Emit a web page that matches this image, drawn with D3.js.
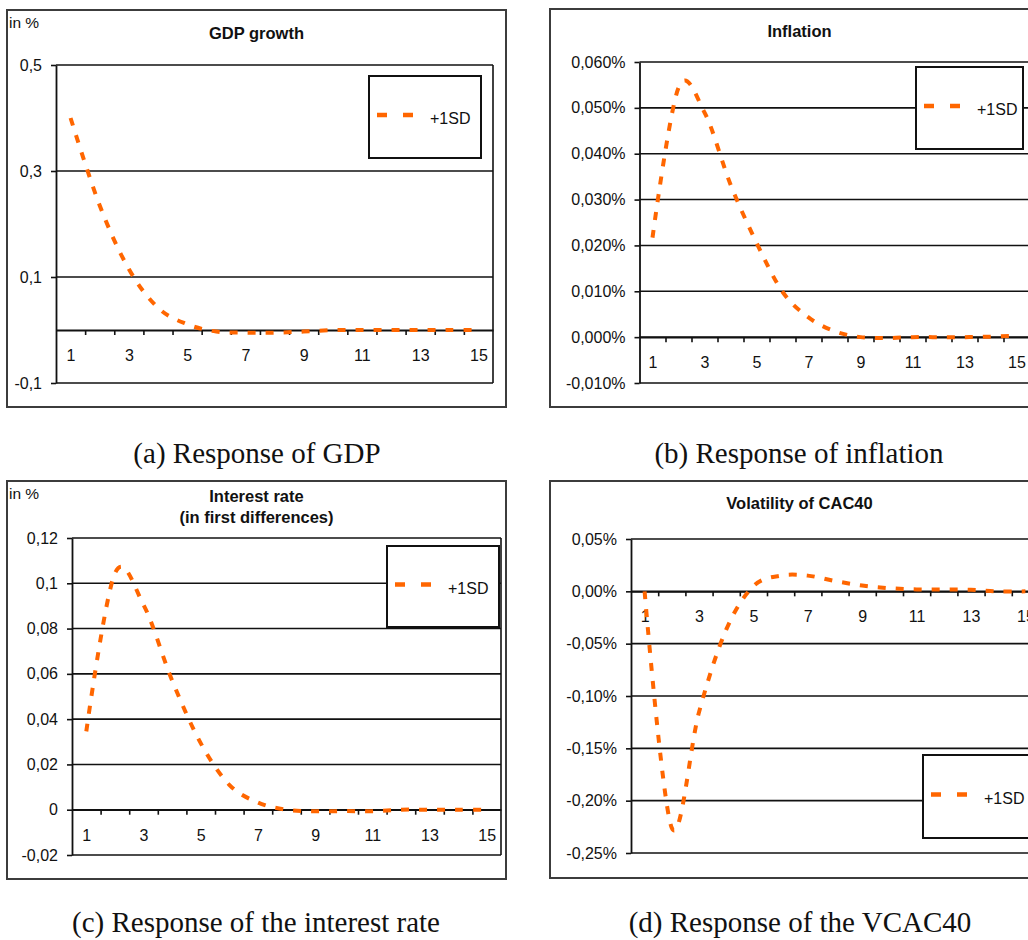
<!DOCTYPE html>
<html>
<head>
<meta charset="utf-8">
<script src="https://cdn.jsdelivr.net/npm/d3@7"></script>
<style>
  html, body { margin: 0; padding: 0; background: #fff; }
  svg { display: block; }
  .lab { font-family: 'Liberation Sans', Arial, sans-serif; font-size: 16px; fill: #111; }
  .ttl { font-family: 'Liberation Sans', Arial, sans-serif; font-size: 16.5px; font-weight: bold; fill: #111; }
  .cap { font-family: 'Liberation Serif', 'Times New Roman', serif; font-size: 29px; fill: #111; }
</style>
</head>
<body>
<svg id="chart" width="1028" height="940"></svg>
<script>
// ---------------- DATA ----------------
const periods = [1, 2, 3, 4, 5, 6, 7, 8, 9, 10, 11, 12, 13, 14, 15];
const xLabelPeriods = [1, 3, 5, 7, 9, 11, 13, 15];
const seriesName = "+1SD";

const gdpGrowth = [0.40, 0.235, 0.115, 0.042, 0.011, -0.003, -0.005, -0.005, -0.003, 0, 0, 0, 0, 0, 0];
const inflation = [0.0217, 0.0544, 0.0490, 0.0333, 0.0206, 0.0099, 0.0043, 0.0013, 0.0000, -0.0002, 0.0000, 0.0000, 0.0000, 0.0001, 0.0003];
const interestRate = [0.0346, 0.1044, 0.0905, 0.0571, 0.0294, 0.0110, 0.0032, 0.0000, -0.0007, -0.0006, -0.0007, 0.0000, 0.0000, 0.0000, 0.0000];
const vcac40 = [0.0, -0.226, -0.1155, -0.0366, 0.0048, 0.015, 0.015, 0.0098, 0.0056, 0.003, 0.0018, 0.0017, 0.0015, 0.0, 0.0];

const gdpTicks = [-0.1, 0.1, 0.3, 0.5];
const gdpTickLabels = ["-0,1", "0,1", "0,3", "0,5"];
const inflationTicks = [-0.01, 0, 0.01, 0.02, 0.03, 0.04, 0.05, 0.06];
const inflationTickLabels = ["-0,010%", "0,000%", "0,010%", "0,020%", "0,030%", "0,040%", "0,050%", "0,060%"];
const interestTicks = [-0.02, 0, 0.02, 0.04, 0.06, 0.08, 0.1, 0.12];
const interestTickLabels = ["-0,02", "0", "0,02", "0,04", "0,06", "0,08", "0,1", "0,12"];
const vcacTicks = [-0.25, -0.2, -0.15, -0.1, -0.05, 0, 0.05];
const vcacTickLabels = ["-0,25%", "-0,20%", "-0,15%", "-0,10%", "-0,05%", "0,00%", "0,05%"];

const titles = [["GDP growth"], ["Inflation"], ["Interest rate", "(in first differences)"], ["Volatility of CAC40"]];
const captions = ["(a) Response of GDP", "(b) Response of inflation", "(c) Response of the interest rate", "(d) Response of the VCAC40"];
const unitLabel = "in %";

// ---------------- LAYOUT ----------------
const svg = d3.select("#chart");
svg.append("rect").attr("width", 1028).attr("height", 940).attr("fill", "#fff");

const panels = [
  { values: gdpGrowth, ticks: gdpTicks, labels: gdpTickLabels, title: titles[0], caption: captions[0], unit: true,
    outer: [7, 10, 499, 397], plot: [56, 493, 65, 383], titleY: [39], capX: 257, capY: 463,
    legend: [369, 76, 112, 82] },
  { values: inflation, ticks: inflationTicks, labels: inflationTickLabels, title: titles[1], caption: captions[1], unit: false,
    outer: [550, 9, 499, 398], plot: [639.5, 1029.5, 62, 383], titleY: [37], capX: 799, capY: 463,
    legend: [916, 67, 107, 82] },
  { values: interestRate, ticks: interestTicks, labels: interestTickLabels, title: titles[2], caption: captions[2], unit: true,
    outer: [7, 481, 499, 398], plot: [72, 501, 538, 855], titleY: [502, 523], capX: 256, capY: 932,
    legend: [387, 546, 112, 81] },
  { values: vcac40, ticks: vcacTicks, labels: vcacTickLabels, title: titles[3], caption: captions[3], unit: false,
    outer: [550, 481, 499, 397], plot: [631, 1039, 539, 853], titleY: [509], capX: 800, capY: 932,
    legend: [923, 755, 110, 83] }
];

panels.forEach(p => {
  const g = svg.append("g");
  const [ox, oy, ow, oh] = p.outer;
  const [pl, pr, pt, pb] = p.plot;
  const cx = ox + ow / 2;

  // outer frame
  g.append("rect").attr("x", ox).attr("y", oy).attr("width", ow).attr("height", oh)
    .attr("fill", "#fff").attr("stroke", "#3c3c3c").attr("stroke-width", 2);

  const x = d3.scaleLinear().domain([0.5, 15.5]).range([pl, pr]);
  const y = d3.scaleLinear().domain(d3.extent(p.ticks)).range([pb, pt]);

  // gridlines at ticks
  g.append("g").selectAll("line").data(p.ticks).join("line")
    .attr("x1", pl).attr("x2", pr)
    .attr("y1", d => y(d)).attr("y2", d => y(d))
    .attr("stroke", "#111").attr("stroke-width", 1.6);

  // plot border (right)
  g.append("line").attr("x1", pr).attr("x2", pr).attr("y1", pt).attr("y2", pb)
    .attr("stroke", "#111").attr("stroke-width", 1.6);

  // y axis
  const ya = g.append("g").attr("transform", `translate(${pl},0)`)
    .call(d3.axisLeft(y).tickValues(p.ticks).tickFormat((d, i) => p.labels[i]).tickSize(5).tickSizeOuter(0).tickPadding(9));
  ya.select(".domain").attr("stroke", "#111").attr("stroke-width", 1.8);
  ya.selectAll(".tick line").attr("stroke", "#111").attr("stroke-width", 1.6);
  ya.selectAll("text").attr("class", "lab").attr("font-family", null).attr("font-size", null).attr("fill", null);

  // x axis at zero: tick marks at category boundaries
  const boundaries = periods.slice(0, -1).map(c => c + 0.5);
  const xa = g.append("g").attr("transform", `translate(0,${y(0)})`)
    .call(d3.axisBottom(x).tickValues(boundaries).tickFormat("").tickSize(5).tickSizeOuter(0));
  xa.select(".domain").attr("stroke", "#111").attr("stroke-width", 1.8);
  xa.selectAll(".tick line").attr("stroke", "#111").attr("stroke-width", 1.6);

  // x labels at category centres
  const xl = g.append("g").attr("transform", `translate(0,${y(0)})`)
    .call(d3.axisBottom(x).tickValues(xLabelPeriods).tickFormat(d3.format("d")).tickSize(0));
  xl.select(".domain").remove();
  xl.selectAll("text").attr("class", "lab").attr("font-family", null).attr("font-size", null).attr("fill", null)
    .attr("dy", null).attr("y", 31);

  // title
  p.title.forEach((t, i) => {
    g.append("text").attr("class", "ttl").attr("x", cx).attr("y", p.titleY[i])
      .attr("text-anchor", "middle").text(t);
  });
  if (p.unit) {
    g.append("text").attr("class", "lab").attr("x", ox + 2).attr("y", oy + 18).style("font-size", "15.5px").text(unitLabel);
  }

  // legend box
  const [lx, ly, lw, lh] = p.legend;
  g.append("rect").attr("x", lx).attr("y", ly).attr("width", lw).attr("height", lh)
    .attr("fill", "#fff").attr("stroke", "#111").attr("stroke-width", 2);
  const lyMid = ly + lh / 2 - 2;
  g.append("line").attr("x1", lx + 8).attr("x2", lx + 46).attr("y1", lyMid).attr("y2", lyMid)
    .attr("stroke", "#FF6600").attr("stroke-width", 4.5).attr("stroke-dasharray", "10,16");
  g.append("text").attr("class", "lab").attr("x", lx + 61).attr("y", lyMid + 9).text(seriesName);

  // series line
  const line = d3.line()
    .x((d, i) => x(periods[i]))
    .y(d => y(d))
    .curve(d3.curveCardinal.tension(0));
  g.append("path").datum(p.values)
    .attr("d", line)
    .attr("fill", "none")
    .attr("stroke", "#FF6600")
    .attr("stroke-width", 4)
    .attr("stroke-dasharray", "8,10");

  // caption
  svg.append("text").attr("class", "cap").attr("x", p.capX).attr("y", p.capY)
    .attr("text-anchor", "middle").text(p.caption);
});
</script>
</body>
</html>
